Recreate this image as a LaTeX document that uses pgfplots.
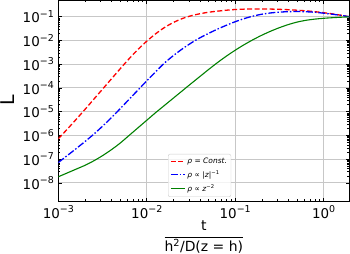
\documentclass[border=0pt]{standalone}
\usepackage{fontspec}
\setmainfont{DejaVu Sans}
\usepackage{amsmath}
\usepackage{pgfplots}
\usepackage{pgfplotstable}
\pgfplotsset{compat=1.18}
\newcommand{\tl}[1]{10\raisebox{0.42em}{\fontsize{9.5}{9.5}\selectfont −#1}}
\newcommand{\tlp}[1]{10\raisebox{0.42em}{\fontsize{9.5}{9.5}\selectfont #1}}
\pgfplotstableread{
t         red        blue       green
0.001     7.244e-7   7.244e-8   1.820e-8
0.0012589 1.820e-6   1.413e-7   2.630e-8
0.0015849 4.677e-6   2.754e-7   3.802e-8
0.0019953 1.230e-5   5.495e-7   5.495e-8
0.0025119 3.311e-5   1.122e-6   8.511e-8
0.0031623 8.913e-5   2.455e-6   1.413e-7
0.0039811 2.399e-4   5.623e-6   2.512e-7
0.0050119 6.457e-4   1.349e-5   4.786e-7
0.0063096 1.698e-3   3.311e-5   1.0e-6
0.0079433 4.169e-3   8.128e-5   2.089e-6
0.01      9.333e-3   1.995e-4   4.365e-6
0.012589  1.905e-2   4.786e-4   9.120e-6
0.015849  3.508e-2   1.122e-3   1.841e-5
0.019953  5.689e-2   2.291e-3   3.715e-5
0.025119  8.318e-2   4.365e-3   7.499e-5
0.031623  1.096e-1   7.762e-3   1.514e-4
0.039811  1.334e-1   1.288e-2   3.020e-4
0.050119  1.549e-1   1.995e-2   6.026e-4
0.063096  1.718e-1   3.020e-2   1.175e-3
0.079433  1.884e-1   4.365e-2   2.188e-3
0.1       2.018e-1   6.166e-2   3.890e-3
0.12589   2.089e-1   8.318e-2   6.607e-3
0.15849   2.123e-1   1.059e-1   1.072e-2
0.19953   2.128e-1   1.274e-1   1.660e-2
0.25119   2.104e-1   1.445e-1   2.455e-2
0.31623   2.051e-1   1.567e-1   3.467e-2
0.39811   1.982e-1   1.633e-1   4.677e-2
0.50119   1.884e-1   1.655e-1   5.957e-2
0.63096   1.770e-1   1.622e-1   7.079e-2
0.79433   1.633e-1   1.549e-1   7.943e-2
1.0       1.479e-1   1.413e-1   8.610e-2
1.2589    1.318e-1   1.274e-1   9.120e-2
1.5849    1.148e-1   1.135e-1   9.550e-2
1.95      1.0e-1     1.0e-1     9.886e-2
}\datatable
\begin{document}
\begin{tikzpicture}
\begin{axis}[
  name=ax,
  scale only axis,
  width=291bp, height=201bp,
  xmode=log, ymode=log,
  xmin=0.001, xmax=1.95,
  ymin=1.74e-9, ymax=0.507,
  xtick={0.001,0.01,0.1,1},
  xticklabels={\tl{3},\tl{2},\tl{1},\tlp{0}},
  ytick={1e-8,1e-7,1e-6,1e-5,1e-4,1e-3,1e-2,1e-1},
  yticklabels={\tl{8},\tl{7},\tl{6},\tl{5},\tl{4},\tl{3},\tl{2},\tl{1}},
  ticklabel style={font=\fontsize{13.5}{14}\selectfont},
  xticklabel style={yshift=-1bp},
  yticklabel style={xshift=-1bp},
  tick align=inside,
  major tick length=3.5bp, minor tick length=2bp,
  tick style={black, line width=0.6bp},
  axis line style={line width=0.8bp},
  grid=major,
  major grid style={line width=1bp, color=black!22},
  xlabel={$\dfrac{\text{t}}{\text{h\textsuperscript{2}/D(z = h)}}$},
  xlabel style={at={(axis description cs:0.5,0)}, anchor=north, yshift=-20bp, inner sep=0pt, font=\fontsize{14}{16}\selectfont},
  legend style={at={(axis description cs:0.377,0.02)}, anchor=south west,
    font=\fontsize{7.5}{9}\selectfont, draw=black!20, rounded corners=2bp,
    fill=white, fill opacity=0.8, text opacity=1, row sep=1.5bp, inner sep=2bp},
  legend cell align=left,
  legend image code/.code={\draw[#1] (0bp,0bp) -- (14bp,0bp);},
]
\addplot[red, line width=1.3bp, dash pattern=on 5bp off 2.5bp, smooth, tension=0.5] table[x=t, y=red] {\datatable};
\addlegendentry{\textit{ρ} = \textit{Const.}}
\addplot[blue, line width=1.3bp, dash pattern=on 7bp off 2bp on 1.5bp off 2bp, smooth, tension=0.5] table[x=t, y=blue] {\datatable};
\addlegendentry{\textit{ρ} ∝ |\textit{z}|\textsuperscript{−1}}
\addplot[color={rgb,255:red,0;green,128;blue,0}, line width=1.1bp, smooth, tension=0.5] table[x=t, y=green] {\datatable};
\addlegendentry{\textit{ρ} ∝ \textit{z}\textsuperscript{−2}}
\end{axis}
\node[rotate=90, inner sep=0pt, font=\fontsize{19}{20}\selectfont] at ([xshift=-50.8bp]ax.west) {L};
\pgfresetboundingbox
\path ([shift={(-58.3bp,-53bp)}]ax.south west) rectangle ([shift={(0.7bp,0bp)}]ax.north east);
\end{tikzpicture}
\end{document}
